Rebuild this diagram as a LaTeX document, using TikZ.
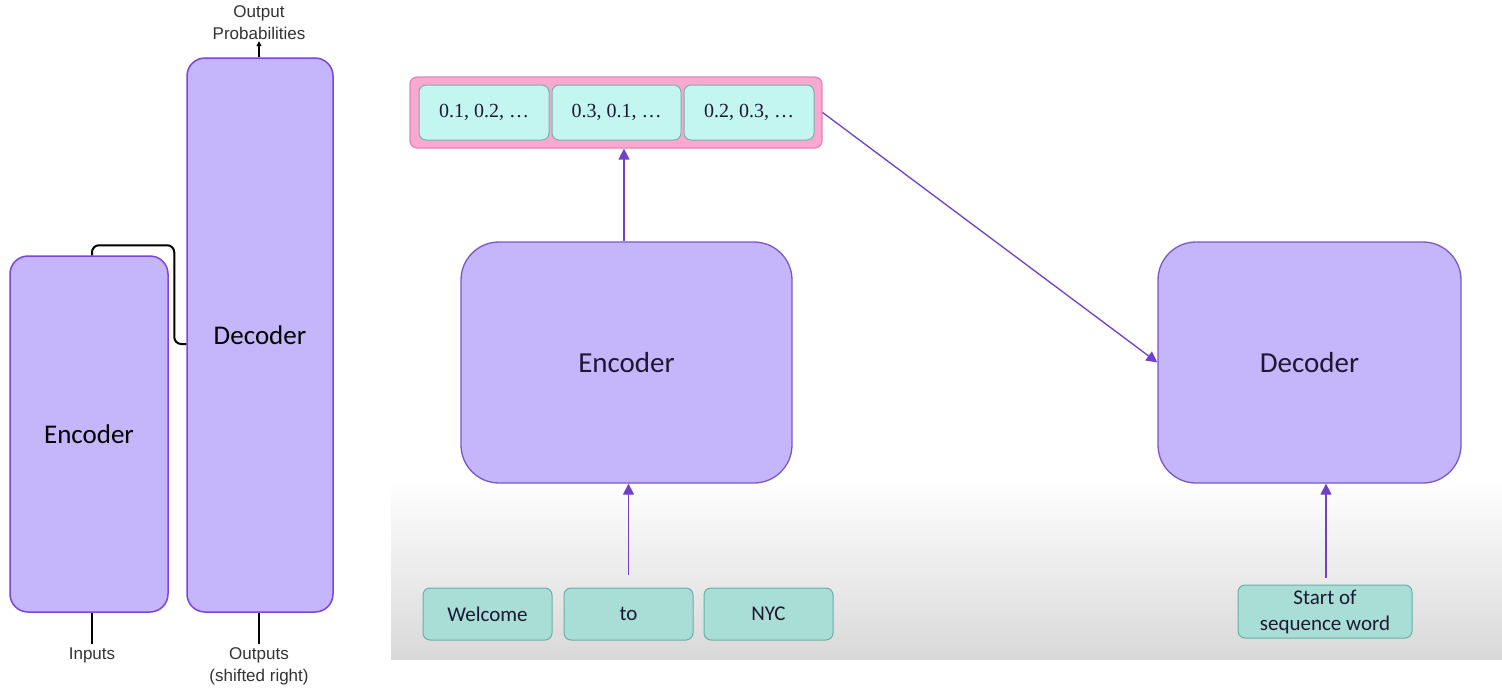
\documentclass[tikz,border=0pt]{standalone}
\usepackage{fontspec}
\usetikzlibrary{arrows.meta}
\newfontfamily\calib{Carlito}
\newfontfamily\helv{Liberation Sans}
\newfontfamily\numfont{Liberation Serif}

\definecolor{lavfill}{HTML}{C5B5FA}
\definecolor{lavline}{HTML}{7C45E0}
\definecolor{lavline2}{HTML}{7A58C8}
\definecolor{pinkfill}{HTML}{F9A8CF}
\definecolor{pinkline}{HTML}{E286B2}
\definecolor{cellfill}{HTML}{C3F6F1}
\definecolor{cellline}{HTML}{7DAEAC}
\definecolor{tokfill}{HTML}{A9DED7}
\definecolor{tokline}{HTML}{6AAFA5}
\definecolor{arrowpurple}{HTML}{7040C8}
\definecolor{darktext}{HTML}{1E1833}
\definecolor{labeltext}{HTML}{333333}

\tikzset{
  leftbox/.style={draw=lavline, fill=lavfill, line width=1.5pt,
    rounded corners=18pt, inner sep=0pt,
    font=\calib\fontsize{27}{32}\selectfont, text=black},
  bigbox/.style={draw=lavline2, fill=lavfill, line width=1.3pt,
    rounded corners=38pt, inner sep=0pt,
    font=\calib\fontsize{29}{34}\selectfont, text=darktext},
  pinkbar/.style={draw=pinkline, fill=pinkfill, line width=1.2pt,
    rounded corners=7pt, inner sep=0pt},
  cell/.style={draw=cellline, fill=cellfill, line width=1pt,
    rounded corners=7pt, inner sep=0pt, minimum height=55pt,
    font=\numfont\fontsize{20}{24}\selectfont, text=darktext},
  token/.style={draw=tokline, fill=tokfill, line width=1pt,
    rounded corners=7pt, inner sep=0pt, align=center,
    font=\calib\fontsize{21}{26}\selectfont, text=darktext},
  lbl/.style={inner sep=0pt, align=center, text=labeltext,
    font=\helv\fontsize{17}{22}\selectfont},
  blackline/.style={draw=black, line width=2pt},
  parrow/.style={draw=arrowpurple, line width=1.3pt,
    -{Triangle[width=11pt,length=11pt]}},
}

\begin{document}
\begin{tikzpicture}[x=1pt,y=-1pt]
\useasboundingbox (0,0) rectangle (1502,691);
\fill[white] (0,0) rectangle (1502,691);
% soft grey floor of the right-hand panel
\shade[top color=white, bottom color=black!15] (391,478) rectangle (1502,659);

% ---------- left: original transformer sketch ----------
\node[leftbox, minimum width=158pt, minimum height=356pt] (lenc) at (89,434) {Encoder};
\node[leftbox, minimum width=146pt, minimum height=554pt] (ldec) at (260,335) {Decoder};

\draw[blackline, rounded corners=7pt]
  ([xshift=3pt]lenc.north) -- ++(0,-10) -| ([xshift=-12pt,yshift=-9pt]ldec.west)
  -- ([yshift=-9pt]ldec.west);

\node[lbl] (prob) at (259,23) {Output\\Probabilities};
\node[lbl] (inp) at (92,655) {Inputs};
\node[lbl] (outs) at (259,666) {Outputs\\(shifted right)};

\draw[draw=black, line width=1.5pt, -{Triangle[width=5pt,length=5pt]}]
  (prob.south |- ldec.north) -- ([yshift=-1pt]prob.south);
\draw[blackline] ([yshift=3pt]inp.north) -- (inp.north |- lenc.south);
\draw[blackline] ([yshift=3pt]outs.north) -- (outs.north |- ldec.south);

% ---------- right: encoder / decoder walkthrough ----------
\node[pinkbar, minimum width=412pt, minimum height=71pt] (vec) at (616,112.5) {};
\node[cell, minimum width=130pt] (c1) at (484,112.5) {0.1, 0.2, …};
\node[cell, minimum width=129pt] (c2) at (616.5,112.5) {0.3, 0.1, …};
\node[cell, minimum width=130pt] (c3) at (749,112.5) {0.2, 0.3, …};

\node[bigbox, minimum width=331pt, minimum height=241pt] (renc) at (626.5,362.5) {Encoder};
\node[bigbox, minimum width=303pt, minimum height=241pt] (rdec) at (1309.5,362.5) {Decoder};

\node[token, minimum width=129pt, minimum height=52pt] (w1) at (487.5,614) {Welcome};
\node[token, minimum width=129pt, minimum height=52pt] (w2) at (628.5,614) {to};
\node[token, minimum width=129pt, minimum height=52pt] (w3) at (768.5,614) {NYC};
\node[token, minimum width=174pt, minimum height=53pt] (sos) at (1325,611.5) {Start of\\sequence word};

\draw[parrow] ([xshift=-2.5pt]renc.north) -- ([xshift=-2.5pt]renc.north |- vec.south);
\draw[parrow] (vec.east) -- (rdec.west);
\draw[parrow] ([yshift=13pt]w2.north) -- (w2.north |- renc.south);
\draw[parrow] ([xshift=1pt,yshift=7pt]sos.north) -- ([xshift=1pt]sos.north |- rdec.south);
\end{tikzpicture}
\end{document}
